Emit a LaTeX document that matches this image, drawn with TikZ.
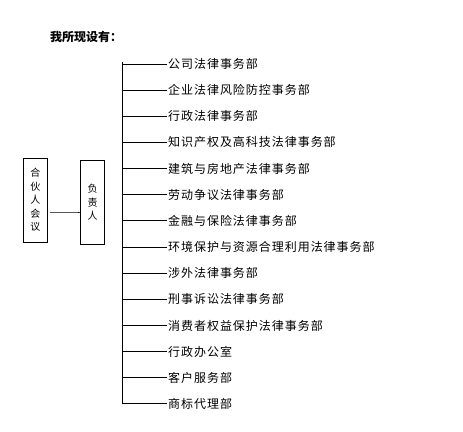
\documentclass[tikz,border=0pt]{standalone}
\usepackage{fontspec}
\newfontfamily\cjk[LetterSpace=8]{Noto Sans CJK SC}
\newfontfamily\cjktitle{Noto Sans CJK SC}
\usetikzlibrary{positioning, calc}

\begin{document}
\begin{tikzpicture}[
    x=1pt, y=-1pt,
    node distance=26.15pt,
    title/.style={font=\cjktitle\fontsize{12}{14}\selectfont\bfseries, inner sep=0pt},
    board/.style={rectangle, draw=black, line width=1pt, minimum width=24pt, minimum height=84pt, inner sep=0pt, align=center, font=\cjk\fontsize{10}{13.5}\selectfont},
    dept/.style={rectangle, inner xsep=1pt, inner ysep=1pt, anchor=west, font=\cjk\fontsize{12}{14}\selectfont},
    link/.style={draw=black, line width=1pt}
]
    \useasboundingbox (0,0) rectangle (463,431);

    % Title
    \node[title] (head) at (86,37) {我所现设有：};

    % Left: partners meeting and person in charge
    \node[board] (hhy) at (35.5,200) {合\\伙\\人\\会\\议};
    \node[board] (fzr) at (92.7,202.5) {负\\责\\人};

    % Right: departments
    \node[dept] (d1) at (167,64) {公司法律事务部};
    \node[dept, below=of d1.west, anchor=west] (d2) {企业法律风险防控事务部};
    \node[dept, below=of d2.west, anchor=west] (d3) {行政法律事务部};
    \node[dept, below=of d3.west, anchor=west] (d4) {知识产权及高科技法律事务部};
    \node[dept, below=of d4.west, anchor=west] (d5) {建筑与房地产法律事务部};
    \node[dept, below=of d5.west, anchor=west] (d6) {劳动争议法律事务部};
    \node[dept, below=of d6.west, anchor=west] (d7) {金融与保险法律事务部};
    \node[dept, below=of d7.west, anchor=west] (d8) {环境保护与资源合理利用法律事务部};
    \node[dept, below=of d8.west, anchor=west] (d9) {涉外法律事务部};
    \node[dept, below=of d9.west, anchor=west] (d10) {刑事诉讼法律事务部};
    \node[dept, below=of d10.west, anchor=west] (d11) {消费者权益保护法律事务部};
    \node[dept, below=of d11.west, anchor=west] (d12) {行政办公室};
    \node[dept, below=of d12.west, anchor=west] (d13) {客户服务部};
    \node[dept, below=of d13.west, anchor=west] (d14) {商标代理部};

    % Connections
    \draw[link] ([yshift=-12pt]hhy.east) ++(1.5,0) -- ([yshift=-12pt]hhy.east -| fzr.west) -- ++(-2.5,0);

    \coordinate (trunk) at (122,62);
    \draw[link] (trunk) -- (trunk |- d14.west);
    \draw[link] (trunk |- d1.west) -- (d1.west);
    \draw[link] (trunk |- d2.west) -- (d2.west);
    \draw[link] (trunk |- d3.west) -- (d3.west);
    \draw[link] (trunk |- d4.west) -- (d4.west);
    \draw[link] (trunk |- d5.west) -- (d5.west);
    \draw[link] (trunk |- d6.west) -- (d6.west);
    \draw[link] (trunk |- d7.west) -- (d7.west);
    \draw[link] (trunk |- d8.west) -- (d8.west);
    \draw[link] (trunk |- d9.west) -- (d9.west);
    \draw[link] (trunk |- d10.west) -- (d10.west);
    \draw[link] (trunk |- d11.west) -- (d11.west);
    \draw[link] (trunk |- d12.west) -- (d12.west);
    \draw[link] (trunk |- d13.west) -- (d13.west);
    \draw[link] (trunk |- d14.west) -- (d14.west);

\end{tikzpicture}
\end{document}
